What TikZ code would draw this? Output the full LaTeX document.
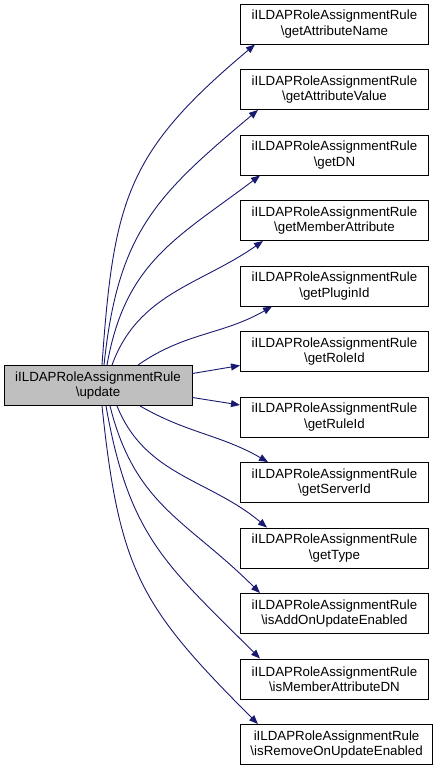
\documentclass[tikz,border=0pt]{standalone}
\usepackage{fontspec}
\setmainfont{Liberation Sans}
\usetikzlibrary{arrows.meta}
\definecolor{edgeblue}{HTML}{191970}
\definecolor{rootgray}{HTML}{BFBFBF}

\begin{document}
\begin{tikzpicture}[x=1pt,y=1pt,>={Triangle[length=9pt,width=7pt]},
    fn/.style={draw=black,line width=0.9pt,fill=white,minimum width=188pt,minimum height=40pt,
        inner xsep=10pt,inner ysep=0pt,align=center,font=\fontsize{13.3}{15.5}\selectfont},
    root/.style={fn,fill=rootgray},
    call/.style={->,edgeblue,line width=0.9pt}]
        \useasboundingbox (0,0) rectangle (436,-771);
        \node[root] (upd) at (98,-385.5) {iILDAPRoleAssignmentRule\\\textbackslash update};
        \node[fn,anchor=west] (attrname) at (240,-24) {iILDAPRoleAssignmentRule\\\textbackslash getAttributeName};
        \node[fn,anchor=west] (attrval) at (240,-89.5) {iILDAPRoleAssignmentRule\\\textbackslash getAttributeValue};
        \node[fn,anchor=west] (dn) at (240,-155) {iILDAPRoleAssignmentRule\\\textbackslash getDN};
        \node[fn,anchor=west] (memattr) at (240,-220.5) {iILDAPRoleAssignmentRule\\\textbackslash getMemberAttribute};
        \node[fn,anchor=west] (plugin) at (240,-286) {iILDAPRoleAssignmentRule\\\textbackslash getPluginId};
        \node[fn,anchor=west] (role) at (240,-351.5) {iILDAPRoleAssignmentRule\\\textbackslash getRoleId};
        \node[fn,anchor=west] (rule) at (240,-417) {iILDAPRoleAssignmentRule\\\textbackslash getRuleId};
        \node[fn,anchor=west] (server) at (240,-482.5) {iILDAPRoleAssignmentRule\\\textbackslash getServerId};
        \node[fn,anchor=west] (type) at (240,-548) {iILDAPRoleAssignmentRule\\\textbackslash getType};
        \node[fn,anchor=west] (addupd) at (240,-613.5) {iILDAPRoleAssignmentRule\\\textbackslash isAddOnUpdateEnabled};
        \node[fn,anchor=west] (memdn) at (240,-679) {iILDAPRoleAssignmentRule\\\textbackslash isMemberAttributeDN};
        \node[fn,anchor=west] (remupd) at (240,-744.5) {iILDAPRoleAssignmentRule\\\textbackslash isRemoveOnUpdateEnabled};
        % calls going up
        \draw[call] ([xshift=4pt]upd.north) to[out=86,in=-140,looseness=1.2] ([xshift=15pt]attrname.south west);
        \draw[call] ([xshift=6pt]upd.north) to[out=84,in=-140,looseness=1.15] ([xshift=18pt]attrval.south west);
        \draw[call] ([xshift=9pt]upd.north) to[out=80,in=-143,looseness=1.1] ([xshift=20pt]dn.south west);
        \draw[call] ([xshift=14pt]upd.north) to[out=70,in=-145] ([xshift=23pt]memattr.south west);
        \draw[call] ([xshift=40pt]upd.north) to[out=35,in=-150] ([xshift=32pt]plugin.south west);
        \draw[call] ([yshift=12pt]upd.east) -- ([yshift=-14pt]role.west);
        \draw[call] ([yshift=-12pt]upd.east) -- ([yshift=12pt]rule.west);
        % calls going down
        \draw[call] ([xshift=42pt]upd.south) to[out=-30,in=150] ([xshift=28pt]server.north west);
        \draw[call] ([xshift=19pt]upd.south) to[out=-68,in=140] ([xshift=27pt]type.north west);
        \draw[call] ([xshift=12pt]upd.south) to[out=-76,in=135,looseness=1.1] ([xshift=20pt]addupd.north west);
        \draw[call] ([xshift=8pt]upd.south) to[out=-80,in=135,looseness=1.15] ([xshift=20pt]memdn.north west);
        \draw[call] ([xshift=4pt]upd.south) to[out=-84,in=135,looseness=1.2] ([xshift=18pt]remupd.north west);
\end{tikzpicture}
\end{document}
